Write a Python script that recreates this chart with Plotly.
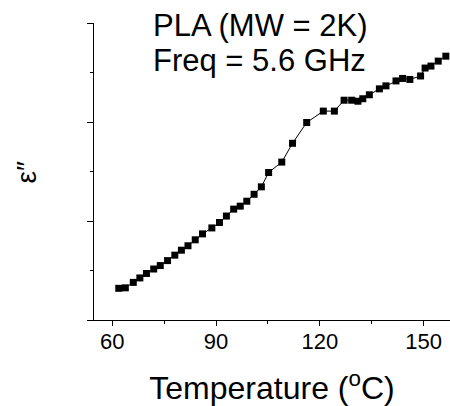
import plotly.graph_objects as go

temperature = [61.9, 63.8, 66.1, 68.0, 69.9, 72.0, 73.9, 76.0, 78.1, 80.0,
               81.9, 84.0, 86.1, 88.8, 91.0, 93.0, 95.1, 97.0, 98.9, 101.0,
               103.1, 105.2, 109.0, 112.1, 116.2, 121.0, 124.2, 127.0, 129.2, 131.0,
               132.4, 134.3, 137.2, 139.1, 142.0, 143.9, 146.0, 149.1, 150.4, 152.1,
               154.2, 156.4]
eps2 = [0.64, 0.65, 0.76, 0.85, 0.94, 1.03, 1.10, 1.20, 1.31, 1.41,
        1.50, 1.62, 1.74, 1.86, 1.97, 2.10, 2.24, 2.30, 2.40, 2.54,
        2.69, 2.98, 3.19, 3.57, 3.99, 4.22, 4.22, 4.44, 4.44, 4.42,
        4.47, 4.55, 4.67, 4.73, 4.83, 4.88, 4.86, 4.93, 5.09, 5.13,
        5.23, 5.33]
x_ticks = [60, 90, 120, 150]

FONT = "Liberation Sans, Arial, sans-serif"

fig = go.Figure()
fig.add_trace(go.Scatter(
    x=temperature, y=eps2, mode="lines+markers",
    line=dict(color="black", width=1),
    marker=dict(symbol="square", size=7, color="black"),
    showlegend=False, cliponaxis=False,
))

fig.update_layout(
    width=450, height=406,
    margin=dict(l=93.5, r=0, t=22.7, b=86),
    paper_bgcolor="white", plot_bgcolor="white",
    font=dict(family=FONT, color="black"),
    xaxis=dict(
        range=[54.75, 157.6], tickvals=x_ticks, ticktext=[str(v) for v in x_ticks],
        ticks="outside", ticklen=5, tickwidth=1, tickcolor="black",
        minor=dict(dtick=15, tick0=60, ticks="outside", ticklen=3, tickcolor="black"),
        showline=True, linecolor="black", linewidth=1.2,
        showgrid=False, zeroline=False,
        tickfont=dict(size=22, family=FONT), ticklabelstandoff=-4,
        title=dict(text="Temperature (<sup>o</sup>C)", font=dict(size=32, family=FONT), standoff=27),
    ),
    yaxis=dict(
        range=[0, 6], tickvals=[0, 2, 4, 6], showticklabels=False,
        ticks="outside", ticklen=6, tickwidth=1, tickcolor="black",
        minor=dict(dtick=1, tick0=0, ticks="outside", ticklen=3, tickcolor="black"),
        showline=True, linecolor="black", linewidth=1.2,
        showgrid=False, zeroline=False,
    ),
    annotations=[
        dict(text="PLA (MW = 2K)", xref="paper", yref="paper", x=0.16, y=0.99,
             xanchor="left", yanchor="middle", showarrow=False,
             font=dict(size=31, family=FONT)),
        dict(text="Freq = 5.6 GHz", xref="paper", yref="paper", x=0.16, y=0.875,
             xanchor="left", yanchor="middle", showarrow=False,
             font=dict(size=31, family=FONT)),
        dict(text="ε\u2033", xref="paper", yref="paper", x=-0.19, y=0.498,
             xanchor="center", yanchor="middle", textangle=-90, showarrow=False,
             font=dict(size=28, family=FONT)),
    ],
)

fig.write_html("out.html")
